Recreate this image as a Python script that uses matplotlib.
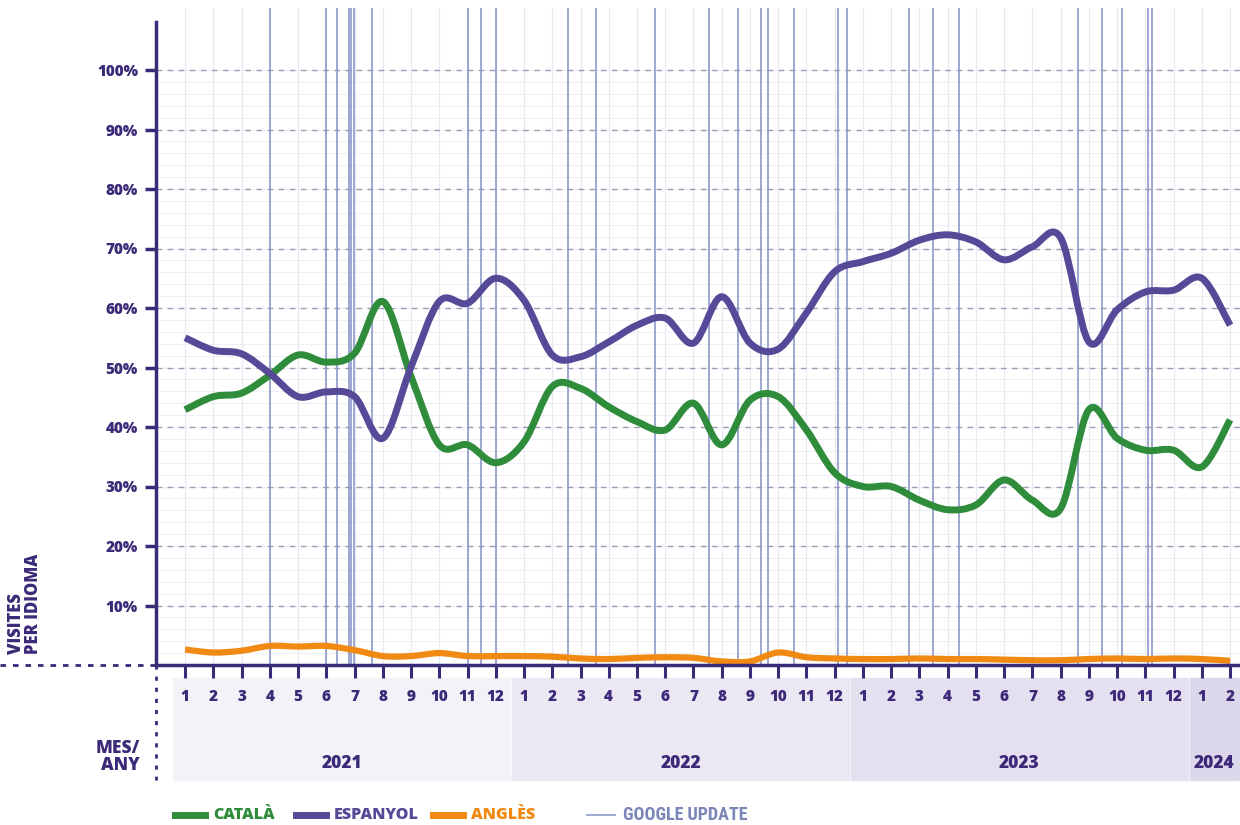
import numpy as np
import matplotlib
matplotlib.use('Agg')
import matplotlib.pyplot as plt
from matplotlib.path import Path
from matplotlib.patches import PathPatch, Rectangle
from matplotlib.lines import Line2D
import matplotlib.transforms as mtransforms

# Monthly share of visits per language (Jan 2021 .. Feb 2024)
months = list(range(1, 13)) * 3 + [1, 2]
years = ['2021', '2022', '2023', '2024']
year_months = [12, 12, 12, 2]

catala = [42.9, 45.1, 45.7, 48.7, 52.1, 50.9, 52.4, 61.1, 48.5, 37.0, 37.0, 34.0,
          37.5, 46.8, 46.5, 43.4, 40.9, 39.5, 44.0, 37.0, 44.5, 45.1, 39.5, 32.3,
          30.0, 30.0, 27.7, 26.1, 26.9, 31.1, 27.7, 26.3, 42.9, 38.1, 36.1, 36.1,
          33.3, 41.2]
espanyol = [55.0, 52.9, 52.3, 49.0, 45.1, 45.9, 45.1, 38.1, 50.1, 61.1, 60.8, 65.0,
            61.3, 52.1, 51.8, 54.3, 57.1, 58.3, 54.1, 61.9, 54.1, 53.1, 59.2, 66.1,
            67.8, 69.2, 71.4, 72.3, 71.1, 68.1, 70.3, 71.8, 54.3, 59.7, 62.7, 63.0,
            65.0, 57.1]
angles = [2.6, 2.1, 2.4, 3.2, 3.1, 3.2, 2.5, 1.5, 1.5, 2.0, 1.5, 1.5,
          1.5, 1.4, 1.1, 1.0, 1.2, 1.3, 1.2, 0.6, 0.6, 2.1, 1.3, 1.1,
          1.0, 1.0, 1.1, 1.0, 1.0, 0.9, 0.8, 0.8, 1.0, 1.1, 1.0, 1.1,
          1.0, 0.7]

# Google updates, as month index (0 = Jan 2021)
google_updates = [3.0, 5.0, 5.38, 5.81, 5.88, 5.98, 6.63, 10.0, 10.47, 11.0,
                  13.56, 14.55, 16.64, 18.54, 19.56, 20.40, 20.63, 21.57, 23.10, 23.45,
                  25.64, 26.49, 27.41, 31.63, 32.48, 33.17, 34.10, 34.24]

GREEN = '#2f8c3b'
PURPLE = '#564a98'
ORANGE = '#f08a12'
DARK = '#3b2a78'
UPDATE = '#8d98c9'
FONT = 'Open Sans'
W = 'heavy'


def smooth_path(xs, ys):
    # Catmull-Rom through the points, drawn as cubic bezier segments
    pts = np.column_stack([xs, ys])
    ext = np.vstack([pts[0], pts, pts[-1]])
    verts = [pts[0]]
    codes = [Path.MOVETO]
    for i in range(len(pts) - 1):
        p0, p1, p2, p3 = ext[i], ext[i + 1], ext[i + 2], ext[i + 3]
        verts += [p1 + (p2 - p0) / 6, p2 - (p3 - p1) / 6, p2]
        codes += [Path.CURVE4] * 3
    return Path(verts, codes)


fig = plt.figure(figsize=(12.4, 8.25), dpi=100)
ax = fig.add_axes([156 / 1240, 1 - 665 / 825, 1 - 156 / 1240, (665 - 8) / 825])

x = np.arange(len(months))
ax.set_xlim(-1.03, 37.35)
ax.set_ylim(0, (665 - 8) / 5.95)

# grids
for v in np.arange(2, 101, 2):
    ax.axhline(v, color='#eef0f7', lw=0.8, zorder=0)
for xi in x:
    ax.axvline(xi, color='#e6e8f3', lw=0.8, zorder=0)
for v in range(10, 101, 10):
    ax.axhline(v, color='#9d9bb3', lw=1.0, ls=(0, (4, 4)), zorder=1)

for g in google_updates:
    ax.axvline(g, color=UPDATE, lw=1.2, zorder=2)

for series, col, lw in [(angles, ORANGE, 4.5), (catala, GREEN, 5), (espanyol, PURPLE, 5)]:
    patch = PathPatch(smooth_path(x, series), fill=False, edgecolor=col, lw=lw,
                      capstyle='butt', joinstyle='round', zorder=4)
    ax.add_patch(patch)

# spines / ticks
for s in ['top', 'right']:
    ax.spines[s].set_visible(False)
ax.spines['left'].set_color(DARK)
ax.spines['bottom'].set_color(DARK)
ax.spines['left'].set_linewidth(2.5)
ax.spines['bottom'].set_linewidth(2.5)
ax.spines['left'].set_bounds(0, 108)
ax.spines['bottom'].set_zorder(5)

ax.set_yticks(range(10, 101, 10))
ax.set_yticklabels([f'{v}%' for v in range(10, 101, 10)], fontsize=11,
                   fontweight=W, color=DARK, family=FONT)
ax.tick_params(axis='y', direction='out', length=8, width=2.5, color=DARK, pad=5)
ax.set_xticks(x)
ax.set_xticklabels([str(m) for m in months], fontsize=11, fontweight=W,
                   color=DARK, family=FONT)
ax.tick_params(axis='x', direction='out', length=9, width=2.2, color=DARK, pad=8)

# year bands under the axis
trans = mtransforms.blended_transform_factory(ax.transData, ax.transAxes)
h_ax = (665 - 8)
y0 = -(780 - 665) / h_ax
y1 = -(678 - 665) / h_ax
band_cols = ['#f4f2f9', '#ebe8f4', '#e4e0f0', '#dcd7eb']
start = -0.46
for yr, n, bc in zip(years, year_months, band_cols):
    end = start + n if yr != '2024' else 37.35
    ax.add_patch(Rectangle((start + 0.03, y0), end - start - 0.06, y1 - y0, transform=trans,
                           color=bc, clip_on=False, zorder=0))
    ax.text((start + min(end, 36.9)) / 2 + (0.2 if yr == '2024' else 0), -(764 - 665) / h_ax, yr,
            transform=trans, ha='center', va='center', fontsize=12.5,
            fontweight=W, color=DARK, family=FONT)
    start = end

# left side labels and dotted guides
fig.add_artist(Line2D([0, 156 / 1240], [1 - 665 / 825] * 2, color=DARK, lw=2,
                      ls=(0, (2, 2.5))))
fig.add_artist(Line2D([156 / 1240] * 2, [1 - 665 / 825, 1 - 780 / 825], color=DARK, lw=2,
                      ls=(0, (1.5, 2.5))))
fig.text(25 / 1240, 1 - 604 / 825, 'VISITES\nPER IDIOMA', rotation=90, ha='center',
         va='center', fontsize=12, fontweight=W, color=DARK, family=FONT,
         linespacing=0.95, multialignment='left')
fig.text(140 / 1240, 1 - 757 / 825, 'MES/\nANY', ha='right', va='center',
         fontsize=12.5, fontweight=W, color=DARK, family=FONT,
         linespacing=1.0, multialignment='right')

# legend
leg = [('CATALÀ', GREEN, 175), ('ESPANYOL', PURPLE, 296), ('ANGLÈS', ORANGE, 433)]
ly = 1 - 815 / 825
for lab, col, lx in leg:
    fig.add_artist(Line2D([lx / 1240, (lx + 30) / 1240], [ly, ly], color=col, lw=5))
    fig.text((lx + 38) / 1240, ly, lab, ha='left', va='center', fontsize=11.5,
             fontweight=W, color=col, family=FONT)
fig.add_artist(Line2D([587 / 1240, 615 / 1240], [ly, ly], color=UPDATE, lw=1.2))
fig.text(623 / 1240, ly, 'GOOGLE UPDATE', ha='left', va='center', fontsize=13,
         fontweight='bold', color='#7b86b8',
         family=['Roboto Condensed', 'Liberation Sans Narrow', 'DejaVu Sans'])

fig.savefig('out.png', dpi=100)
